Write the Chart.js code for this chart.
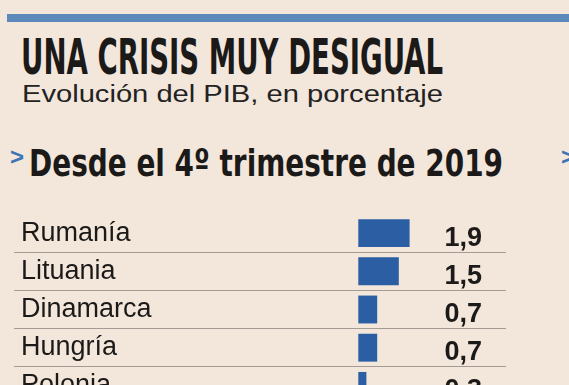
<!DOCTYPE html>
<html>
<head>
<meta charset="utf-8">
<script src="https://cdn.jsdelivr.net/npm/chart.js@4/dist/chart.umd.min.js"></script>
<style>
html, body { margin: 0; padding: 0; background: #f3e7dc; }
#wrap { position: relative; width: 569px; height: 385px; overflow: hidden; background: #f3e7dc; }
.rule { position: absolute; left: 7px; top: 14px; width: 570px; height: 8px; background: #5c89ba; }
.t { position: absolute; white-space: nowrap; line-height: 1; transform-origin: 0 0; color: #1b1a19; }
#title { left: 21px; top: 29px; font: bold 49px "Liberation Sans Narrow", "DejaVu Sans Condensed", sans-serif; }
#sub { left: 22px; top: 81px; font: 23.3px "Liberation Sans", Arial, sans-serif; color: #222; }
#head { left: 29px; top: 141px; font: bold 37.7px "Liberation Sans Narrow", "DejaVu Sans Condensed", sans-serif; }
.chev { position: absolute; line-height: 1; color: #3d74b3; font: bold 24px "Liberation Sans", sans-serif; top: 143px; }
#chart { position: absolute; left: 0; top: 190px; }
</style>
</head>
<body>
<div id="wrap">
  <div class="rule"></div>
  <div class="t" id="title">UNA CRISIS MUY DESIGUAL</div>
  <div class="t" id="sub">Evolución del PIB, en porcentaje</div>
  <div class="chev" style="left:10px">&gt;</div>
  <div class="t" id="head">Desde el 4º trimestre de 2019</div>
  <div class="chev" style="left:561px">&gt;</div>
  <canvas id="chart" width="569" height="239"></canvas>
</div>
<script>
// Datos: evolución del PIB desde el 4º trimestre de 2019 (%)
var paises = ['Rumanía', 'Lituania', 'Dinamarca', 'Hungría', 'Polonia'];
var pib = [1.9, 1.5, 0.7, 0.7, 0.3];

// stretch / squeeze header texts to the width they take in the original
function fitWidth(id, w) {
    var el = document.getElementById(id);
    var natural = el.getBoundingClientRect().width;
    el.style.transform = 'scaleX(' + (w / natural) + ')';
}
fitWidth('title', 422);
fitWidth('sub', 421);
fitWidth('head', 474);

// draws the value of each bar in a fixed column at the right
var valueLabels = {
    id: 'valueLabels',
    afterDatasetsDraw: function(chart) {
        var ctx = chart.ctx;
        var meta = chart.getDatasetMeta(0);
        ctx.save();
        ctx.font = 'bold 27px "Liberation Sans", Arial, sans-serif';
        ctx.fillStyle = '#1b1a19';
        ctx.textAlign = 'right';
        ctx.textBaseline = 'middle';
        meta.data.forEach(function(bar, i) {
            var txt = pib[i].toFixed(1).replace('.', ',');
            ctx.fillText(txt, chart.chartArea.right - 24, bar.y + 5);
        });
        ctx.restore();
    }
};

var myChart = new Chart(document.getElementById('chart'), {
    type: 'bar',
    data: {
        labels: paises,
        datasets: [{
            data: pib,
            backgroundColor: '#2b5ea3',
            borderWidth: 0,
            barPercentage: 0.73,
            categoryPercentage: 1
        }]
    },
    options: {
        indexAxis: 'y',
        responsive: false,
        animation: false,
        devicePixelRatio: 1,
        layout: { padding: { left: 0, right: 63, top: 24, bottom: 24 } },
        plugins: {
            legend: { display: false },
            tooltip: { enabled: false }
        },
        scales: {
            x: {
                display: false,
                min: -12.75,
                max: 5.47
            },
            y: {
                border: { display: false },
                grid: {
                    offset: true,
                    drawTicks: false,
                    lineWidth: 1,
                    // no line above the first row
                    color: function(c) { return c.index === 0 ? 'rgba(0,0,0,0)' : '#a39b94'; }
                },
                ticks: {
                    mirror: true,
                    padding: 7,
                    labelOffset: 0,
                    color: '#1b1a19',
                    font: { family: '"Liberation Sans", Arial, sans-serif', size: 27, lineHeight: 1 }
                }
            }
        }
    },
    plugins: [valueLabels]
});
</script>
</body>
</html>
